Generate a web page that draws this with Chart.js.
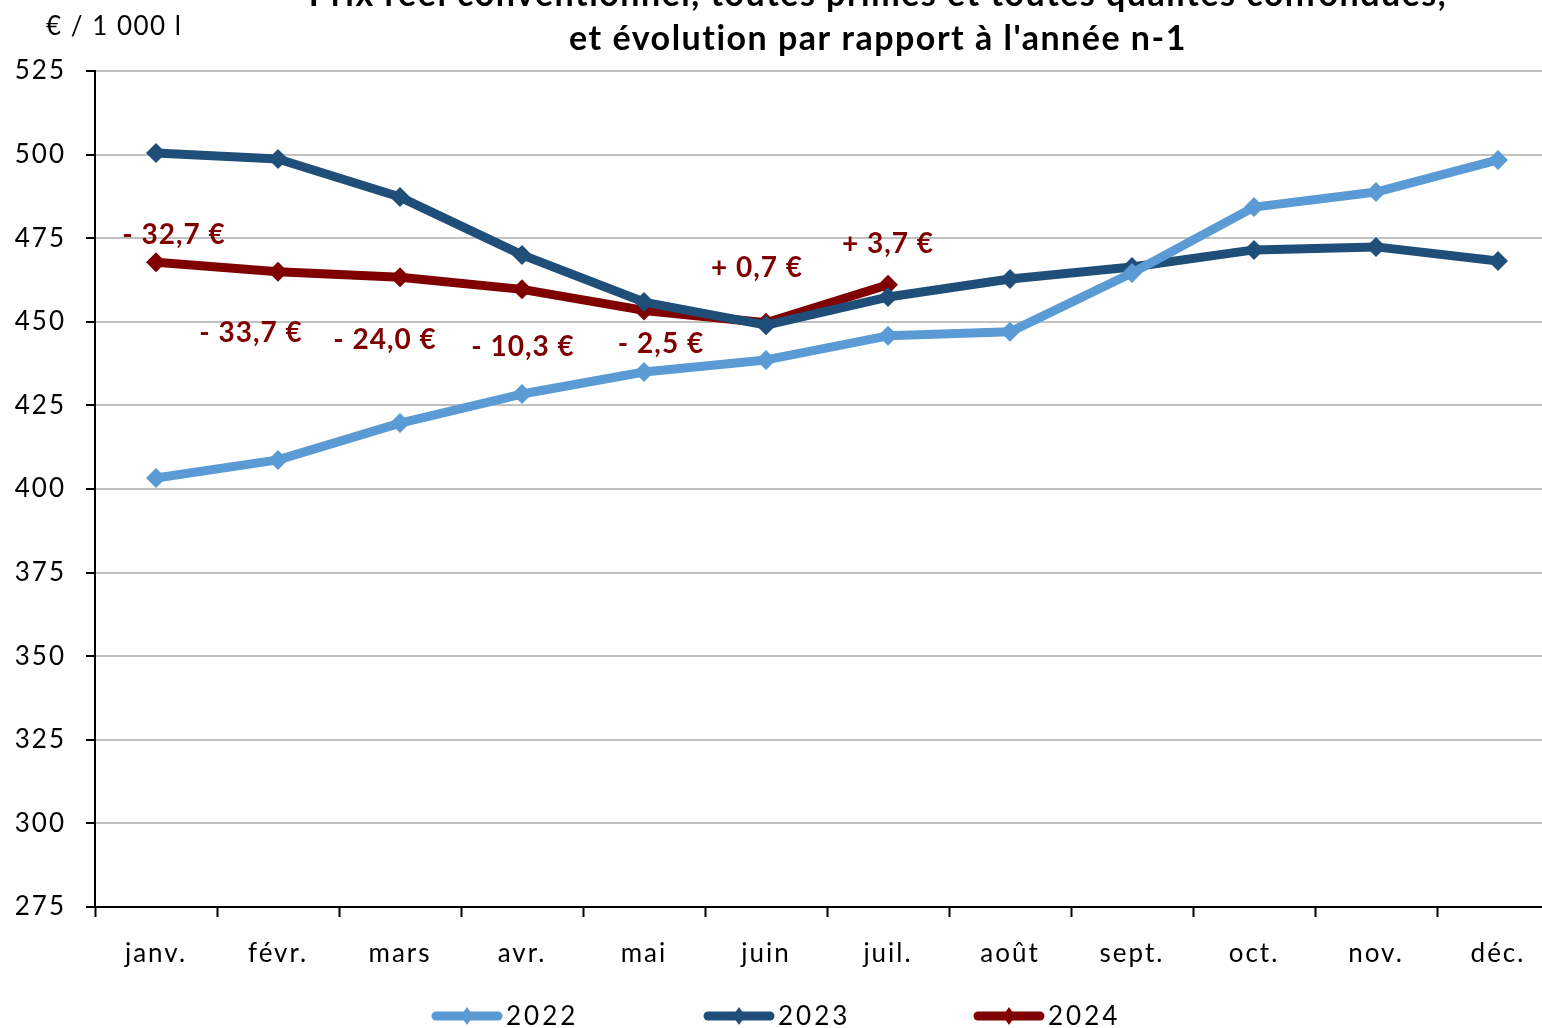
<!DOCTYPE html>
<html><head><meta charset="utf-8">
<script src="https://cdn.jsdelivr.net/npm/chart.js@4.4.1/dist/chart.umd.min.js"></script>
<style>
html,body{margin:0;padding:0;background:#fff;overflow:hidden;width:1542px;height:1028px;}
#wrap{position:absolute;left:0;top:-30px;width:1569px;height:1058px;}
</style></head>
<body><div id="wrap"><canvas id="c" width="1569" height="1058"></canvas></div>
<script>
const months = ['janv.','févr.','mars','avr.','mai','juin','juil.','août','sept.','oct.','nov.','déc.'];
const prix2022 = [403.3, 408.7, 419.7, 428.4, 435.0, 438.6, 445.8, 447.0, 464.6, 484.3, 488.8, 498.4];
const prix2023 = [500.5, 498.7, 487.3, 470.0, 455.9, 449.0, 457.4, 462.8, 466.4, 471.5, 472.4, 468.2];
const prix2024 = [467.8, 465.0, 463.3, 459.7, 453.4, 449.7, 461.1];
const evolLabels = ['- 32,7 €', '- 33,7 €', '- 24,0 €', '- 10,3 €', '- 2,5 €', '+ 0,7 €', '+ 3,7 €'];
const seriesNames = ['2022', '2023', '2024'];
const titleLines = ["Prix réel conventionnel, toutes primes et toutes qualités confondues,", "et évolution par rapport à l'année n-1"];
const unitLabel = '€ / 1 000 l';
const yMin = 275, yMax = 525, yStep = 25;

const colors = ['#5B9BD5', '#1F4E79', '#800000'];
const FONT = 'Lato, "Open Sans", sans-serif';

const labelOffsets = [[18,-27],[-27,61],[-15,63],[1,58],[17,34],[-9,-55],[0,-41]];

const extras = {
  id: 'extras',
  beforeUpdate(chart) { chart.ctx.letterSpacing = '2px'; },
  beforeDraw(chart) { chart.ctx.letterSpacing = '2px'; },
  afterDraw(chart) {
    const ctx = chart.ctx;
    ctx.save();
    // title
    ctx.fillStyle = '#000';
    ctx.textAlign = 'center';
    ctx.textBaseline = 'middle';
    ctx.letterSpacing = '1.5px';
    ctx.font = 'bold 34px ' + FONT;
    ctx.fillText(titleLines[0], 878, 25);
    ctx.fillText(titleLines[1], 878, 69);
    // unit
    ctx.letterSpacing = '1.5px';
    ctx.font = '26px ' + FONT;
    ctx.textAlign = 'left';
    ctx.fillText(unitLabel, 46, 57);
    // evolution labels
    const meta = chart.getDatasetMeta(2);
    ctx.fillStyle = '#800000';
    ctx.letterSpacing = '1px';
    ctx.font = 'bold 28px ' + FONT;
    ctx.textAlign = 'center';
    meta.data.forEach((pt, i) => {
      if (!evolLabels[i]) return;
      const o = labelOffsets[i];
      ctx.fillText(evolLabels[i], pt.x + o[0], pt.y + o[1]);
    });
    // legend
    ctx.letterSpacing = '3px';
    ctx.font = '26px ' + FONT;
    ctx.textAlign = 'left';
    const y = 1046;
    const starts = [432, 704, 974];
    seriesNames.forEach((n, i) => {
      const x0 = starts[i];
      ctx.strokeStyle = colors[i];
      ctx.lineWidth = 9;
      ctx.lineCap = 'round';
      ctx.beginPath(); ctx.moveTo(x0 + 4, y); ctx.lineTo(x0 + 66, y); ctx.stroke();
      ctx.fillStyle = colors[i];
      const cx = x0 + 35, r = 9;
      ctx.beginPath(); ctx.moveTo(cx, y - r); ctx.lineTo(cx + r*0.7, y); ctx.lineTo(cx, y + r); ctx.lineTo(cx - r*0.7, y); ctx.closePath(); ctx.fill();
      ctx.fillStyle = '#000';
      ctx.fillText(n, x0 + 74, y + 1);
    });
    ctx.restore();
  }
};

function ds(label, data, i) {
  return {
    label, data,
    borderColor: colors[i], backgroundColor: colors[i],
    borderWidth: 9, pointStyle: 'rectRot', pointRadius: 10, pointHoverRadius: 10,
    pointBorderWidth: 0, tension: 0, borderJoinStyle: 'round', borderCapStyle: 'round'
  };
}

new Chart(document.getElementById('c'), {
  type: 'line',
  data: {
    labels: months,
    datasets: [ds(seriesNames[0], prix2022, 0), ds(seriesNames[1], prix2023, 1), ds(seriesNames[2], prix2024, 2)]
  },
  options: {
    responsive: false, animation: false,
    layout: { padding: { top: 101, left: 0, right: 0, bottom: 31 } },
    plugins: { legend: { display: false }, title: { display: false }, tooltip: { enabled: false } },
    scales: {
      x: {
        offset: true,
        grid: { offset: true, drawOnChartArea: false, drawTicks: true, tickLength: 10, tickColor: '#000', tickWidth: 2 },
        border: { color: '#000', width: 2 },
        ticks: { color: '#000', font: { family: FONT, size: 26 }, padding: 21, maxRotation: 0, autoSkip: false },
        afterFit(s) { s.height = 90; }
      },
      y: {
        min: yMin, max: yMax,
        ticks: { stepSize: yStep, color: '#000', font: { family: FONT, size: 26 }, padding: 20 },
        grid: { color: '#C0C0C0', lineWidth: 2, tickColor: '#000', tickLength: 9, tickWidth: 2 },
        border: { color: '#000', width: 2 },
        afterFit(s) { s.width = 95; }
      }
    }
  },
  plugins: [extras]
});
</script>
</body></html>
